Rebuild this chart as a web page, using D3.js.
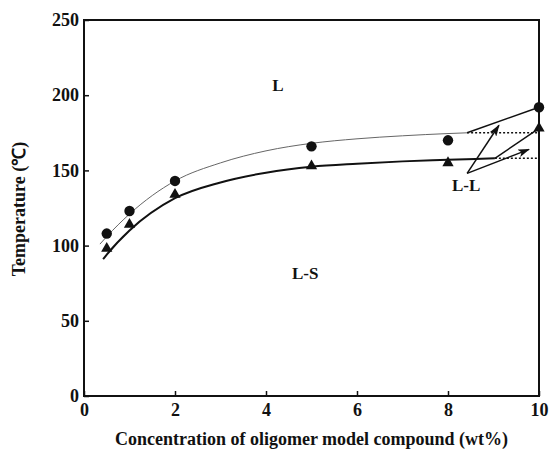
<!DOCTYPE html>
<html>
<head>
<meta charset="utf-8">
<script src="https://cdn.jsdelivr.net/npm/d3@7"></script>
<style>
    body { margin: 0; background: #fff; }
    svg text { font-family: "Liberation Serif", "Times New Roman", serif; font-weight: bold; fill: #111; }
    .axis path { display: none; }
    .axis line { stroke: #111; stroke-width: 1.5; }
</style>
</head>
<body>
<div id="chart"></div>
<script>

// measured points
var concentration = [0.5, 1, 2, 5, 8, 10];
var circleTemps = [108, 123, 143, 166, 170, 192];
var triangleTemps = [98, 114, 134, 153, 155, 178];

// fitted curves
var upperCurveX = [0.35, 0.5, 1, 2, 3, 4, 5, 6, 7, 8, 8.42];
var upperCurveT = [101, 106, 121, 143, 155, 163, 168, 171, 173, 174.5, 175];
var lowerCurveX = [0.42, 0.5, 1, 2, 3, 4, 5, 6, 7, 8, 9.03];
var lowerCurveT = [91, 94, 110, 131.5, 142, 148.5, 152.5, 154.5, 156, 157, 158];

// axis ticks
var xTicks = [0, 2, 4, 6, 8, 10];
var yTicks = [0, 50, 100, 150, 200, 250];

// region labels [x, T, text]
var regionLabels = [
    [4.26, 207, "L"],
    [4.86, 82, "L-S"],
    [8.4, 140, "L-L"]
];

// arrows from the L-L label [x1, T1, x2, T2]
var arrows = [
    [8.42, 148, 9.12, 180],
    [8.42, 148, 9.78, 164]
];

var margin = {top: 20, right: 10, bottom: 54, left: 84};
var width = 455, height = 376;

var svg = d3.select("#chart").append("svg")
    .attr("width", 549)
    .attr("height", 450);

var g = svg.append("g")
    .attr("transform", "translate(" + margin.left + "," + margin.top + ")");

var x = d3.scaleLinear().domain([0, 10]).range([0, width]);
var y = d3.scaleLinear().domain([0, 250]).range([height, 0]);

// axes, ticks pointing inward
g.append("g")
    .attr("class", "axis")
    .attr("transform", "translate(0," + height + ")")
    .call(d3.axisBottom(x).tickValues(xTicks).tickSizeInner(-5).tickSizeOuter(0).tickPadding(7))
    .selectAll("text")
    .style("font-size", "18px");

g.append("g")
    .attr("class", "axis")
    .call(d3.axisLeft(y).tickValues(yTicks).tickSizeInner(-5).tickSizeOuter(0).tickPadding(5))
    .selectAll("text")
    .style("font-size", "18px");

// frame
g.append("rect")
    .attr("width", width)
    .attr("height", height)
    .attr("fill", "none")
    .attr("stroke", "#111")
    .attr("stroke-width", 2);

var line = d3.line()
    .x(function(d) { return x(d[0]); })
    .y(function(d) { return y(d[1]); })
    .curve(d3.curveMonotoneX);

var upper = d3.zip(upperCurveX, upperCurveT);
var lower = d3.zip(lowerCurveX, lowerCurveT);

g.append("path")
    .datum(upper)
    .attr("d", line)
    .attr("fill", "none")
    .attr("stroke", "#666")
    .attr("stroke-width", 1);

g.append("path")
    .datum(lower)
    .attr("d", line)
    .attr("fill", "none")
    .attr("stroke", "#111")
    .attr("stroke-width", 2);

// dotted continuation and branches to the 10 wt% points
var upperEnd = upper[upper.length - 1];
var lowerEnd = lower[lower.length - 1];
var last = concentration.length - 1;

[upperEnd, lowerEnd].forEach(function(p) {
    g.append("line")
        .attr("x1", x(p[0])).attr("y1", y(p[1]))
        .attr("x2", x(10)).attr("y2", y(p[1]))
        .attr("stroke", "#111")
        .attr("stroke-width", 1.5)
        .attr("stroke-dasharray", "2,2");
});

[[upperEnd, circleTemps[last]], [lowerEnd, triangleTemps[last]]].forEach(function(b) {
    g.append("line")
        .attr("x1", x(b[0][0])).attr("y1", y(b[0][1]))
        .attr("x2", x(concentration[last])).attr("y2", y(b[1]))
        .attr("stroke", "#111")
        .attr("stroke-width", 1.5);
});

// arrowheads
svg.append("defs").append("marker")
    .attr("id", "head")
    .attr("viewBox", "0 0 12 8")
    .attr("refX", 11)
    .attr("refY", 4)
    .attr("markerWidth", 12)
    .attr("markerHeight", 8)
    .attr("markerUnits", "userSpaceOnUse")
    .attr("orient", "auto")
    .append("path")
    .attr("d", "M0,0L12,4L0,8L3,4Z")
    .attr("fill", "#111");

g.selectAll(".arrow")
    .data(arrows)
    .enter()
    .append("line")
    .attr("class", "arrow")
    .attr("x1", function(d) { return x(d[0]); })
    .attr("y1", function(d) { return y(d[1]); })
    .attr("x2", function(d) { return x(d[2]); })
    .attr("y2", function(d) { return y(d[3]); })
    .attr("stroke", "#111")
    .attr("stroke-width", 1.5)
    .attr("marker-end", "url(#head)");

// markers
g.selectAll(".dot")
    .data(d3.zip(concentration, circleTemps))
    .enter()
    .append("circle")
    .attr("class", "dot")
    .attr("cx", function(d) { return x(d[0]); })
    .attr("cy", function(d) { return y(d[1]); })
    .attr("r", 5.2)
    .attr("fill", "#111");

var tri = d3.symbol().type(d3.symbolTriangle).size(55);

g.selectAll(".tri")
    .data(d3.zip(concentration, triangleTemps))
    .enter()
    .append("path")
    .attr("class", "tri")
    .attr("d", tri)
    .attr("transform", function(d) { return "translate(" + x(d[0]) + "," + y(d[1]) + ")"; })
    .attr("fill", "#111");

// region labels
g.selectAll(".region")
    .data(regionLabels)
    .enter()
    .append("text")
    .attr("class", "region")
    .attr("x", function(d) { return x(d[0]); })
    .attr("y", function(d) { return y(d[1]); })
    .attr("text-anchor", "middle")
    .attr("dy", "0.35em")
    .style("font-size", "17px")
    .text(function(d) { return d[2]; });

// axis titles
svg.append("text")
    .attr("x", margin.left + width / 2)
    .attr("y", 445)
    .attr("text-anchor", "middle")
    .style("font-size", "18px")
    .text("Concentration of oligomer model compound (wt%)");

svg.append("text")
    .attr("transform", "translate(25,209) rotate(-90)")
    .attr("text-anchor", "middle")
    .style("font-size", "18px")
    .text("Temperature (℃)");

</script>
</body>
</html>
